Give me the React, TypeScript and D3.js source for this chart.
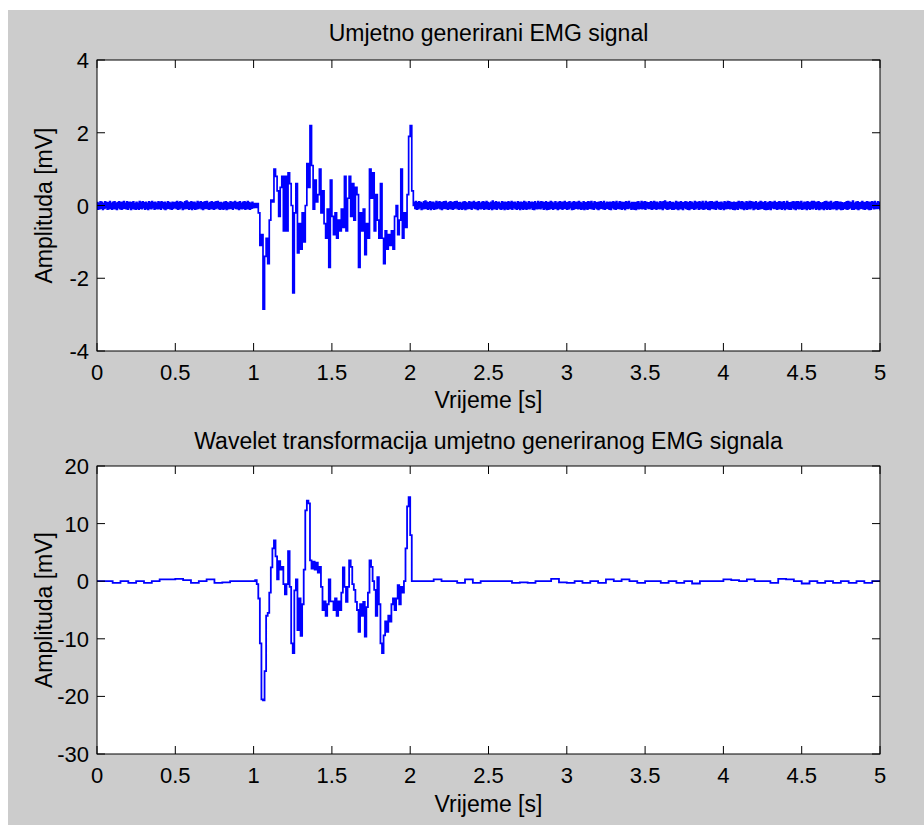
import React from "react";
import * as d3 from "d3";

// ---------- data ----------
const NOISE_DT = 0.005; // s, baseline noise sampling
const SAMPLE_DT = 0.01; // s, burst sampling
const BURST_START = 1.0; // s
const POST_START_TOP = 2.025; // s

const topTitle = "Umjetno generirani EMG signal";
const bottomTitle = "Wavelet transformacija umjetno generiranog EMG signala";
const xLabel = "Vrijeme [s]";
const yLabel = "Amplituda [mV]";

const xTicks = [0, 0.5, 1, 1.5, 2, 2.5, 3, 3.5, 4, 4.5, 5];
const topYTicks = [-4, -2, 0, 2, 4];
const bottomYTicks = [-30, -20, -10, 0, 10, 20];

// raw EMG, baseline noise before the burst (t = 0 .. 0.995 s)
const topPre = [
  .08,-.1,.06,-.09,.1,-.07,.09,-.11,.05,-.08,
  .1,-.06,.08,-.1,.07,-.09,.11,-.08,.06,-.1,
  .09,-.07,.1,-.09,.06,-.11,.08,-.06,.1,-.09,
  .07,-.1,.09,-.08,.11,-.07,.06,-.09,.1,-.1,
  .08,-.06,.09,-.11,.07,-.08,.1,-.09,.05,-.1,
  .09,-.08,.06,-.1,.11,-.07,.08,-.09,.1,-.06,
  .07,-.1,.09,-.08,.06,-.11,.1,-.07,.08,-.09,
  .11,-.06,.07,-.1,.09,-.08,.06,-.09,.1,-.07,
  .08,-.1,.1,-.06,.07,-.09,.09,-.11,.06,-.08,
  .1,-.07,.08,-.09,.06,-.1,.09,-.08,.07,-.05,
  .09,-.08,.11,-.1,.07,-.09,.1,-.06,.08,-.11,
  .06,-.09,.1,-.08,.12,-.07,.09,-.1,.07,-.08,
  .1,-.11,.08,-.07,.09,-.1,.06,-.09,.11,-.08,
  .08,-.06,.1,-.09,.07,-.11,.09,-.08,.1,-.07,
  .11,-.09,.06,-.1,.08,-.07,.1,-.09,.07,-.1,
  .09,-.08,.1,-.06,.11,-.09,.07,-.1,.08,-.08,
  .06,-.1,.09,-.07,.1,-.11,.08,-.09,.06,-.08,
  .1,-.07,.08,-.1,.09,-.06,.11,-.08,.07,-.09,
  .08,-.11,.1,-.08,.06,-.09,.09,-.07,.1,-.1,
  .07,-.08,.11,-.09,.08,-.1,.06,-.07,.09,-.06,
];
// raw EMG burst (t = 1.00 .. 2.02 s)
const topBurst = [
  .05,-.05,.05,-.2,-1.1,-.8,-2.85,-1.4,-.9,-1.6,
  -.4,.15,.1,1.0,.8,.4,-.3,.5,.8,-.7,
  .8,-.7,.9,.6,0,-2.4,-.2,.6,-1.3,-.5,
  -1.2,-.2,-1.0,0,1.15,.5,2.2,1.1,-.1,.7,
  .1,.3,1.0,-.2,.4,-.5,-.9,-.1,-1.7,.7,
  -.3,-.8,-.2,-.9,-.4,-.7,-.1,-.6,.8,-.7,
  .2,.8,-.3,.6,-.4,.5,.3,-1.7,-.2,-.7,
  -.1,-1.35,-.5,-.9,1.0,.2,.9,-.7,.3,-.4,
  -.9,.6,-.9,-1.6,-.7,-1.2,-.8,-1.1,-.7,-1.2,
  -.3,0,-.8,-.4,1.0,-.9,-.2,-.6,.3,1.9,
  2.2,.4,0,
];
// raw EMG, baseline noise after the burst (t = 2.025 .. 5.02 s)
const topPost = [
  .09,-.08,.11,-.1,.07,-.09,.1,-.06,.08,-.11,
  .06,-.09,.1,-.08,.12,-.07,.09,-.1,.07,-.08,
  .1,-.11,.08,-.07,.09,-.1,.06,-.09,.11,-.08,
  .08,-.06,.1,-.09,.07,-.11,.09,-.08,.1,-.07,
  .11,-.09,.06,-.1,.08,-.07,.1,-.09,.07,-.1,
  .09,-.08,.1,-.06,.11,-.09,.07,-.1,.08,-.08,
  .06,-.1,.09,-.07,.1,-.11,.08,-.09,.06,-.08,
  .1,-.07,.08,-.1,.09,-.06,.11,-.08,.07,-.09,
  .08,-.11,.1,-.08,.06,-.09,.09,-.07,.1,-.1,
  .07,-.08,.11,-.09,.08,-.1,.06,-.07,.09,-.11,
  .12,-.09,.07,-.08,.1,-.1,.08,-.06,.09,-.09,
  .05,-.1,.1,-.07,.08,-.11,.09,-.08,.07,-.1,
  .1,-.09,.07,-.08,.11,-.1,.08,-.06,.09,-.09,
  .06,-.1,.1,-.07,.08,-.11,.09,-.08,.07,-.1,
  .11,-.07,.09,-.1,.06,-.08,.1,-.09,.08,-.06,
  .09,-.1,.07,-.11,.1,-.08,.06,-.09,.11,-.07,
  .08,-.09,.1,-.06,.09,-.1,.07,-.08,.1,-.11,
  .07,-.1,.08,-.09,.11,-.07,.09,-.1,.06,-.08,
  .1,-.08,.06,-.11,.09,-.09,.1,-.07,.08,-.1,
  .09,-.07,.11,-.08,.07,-.1,.08,-.09,.1,-.06,
  .06,-.11,.09,-.1,.1,-.08,.07,-.07,.09,-.09,
  .11,-.08,.08,-.1,.06,-.09,.1,-.11,.07,-.08,
  .08,-.1,.1,-.07,.09,-.08,.11,-.09,.06,-.1,
  .1,-.06,.07,-.09,.08,-.11,.09,-.08,.1,-.07,
  .07,-.09,.11,-.1,.06,-.08,.09,-.07,.08,-.1,
  .09,-.11,.08,-.06,.1,-.09,.07,-.1,.11,-.08,
  .06,-.08,.1,-.09,.09,-.1,.08,-.07,.07,-.11,
  .1,-.07,.09,-.08,.11,-.06,.06,-.1,.08,-.09,
  .08,-.1,.07,-.11,.09,-.08,.1,-.09,.06,-.07,
  .11,-.09,.08,-.07,.1,-.1,.09,-.06,.07,-.08,
  .07,-.08,.1,-.1,.08,-.09,.11,-.07,.09,-.1,
  .09,-.07,.06,-.09,.1,-.08,.08,-.11,.1,-.06,
  .12,-.08,.09,-.1,.07,-.09,.1,-.07,.08,-.1,
  .08,-.1,.06,-.08,.11,-.09,.09,-.11,.07,-.08,
  .1,-.09,.08,-.11,.07,-.06,.1,-.08,.09,-.1,
  .07,-.11,.1,-.08,.09,-.07,.06,-.1,.11,-.09,
  .09,-.06,.08,-.1,.1,-.09,.07,-.08,.11,-.1,
  .06,-.09,.11,-.07,.08,-.1,.09,-.11,.1,-.08,
  .1,-.08,.07,-.09,.09,-.1,.11,-.06,.08,-.09,
  .08,-.1,.09,-.07,.06,-.11,.1,-.09,.07,-.08,
  .11,-.07,.1,-.09,.08,-.08,.07,-.1,.09,-.11,
  .07,-.09,.08,-.1,.11,-.06,.09,-.08,.1,-.09,
  .09,-.11,.06,-.08,.1,-.1,.08,-.07,.11,-.09,
  .1,-.06,.09,-.11,.07,-.09,.1,-.08,.06,-.1,
  .08,-.09,.11,-.08,.09,-.07,.07,-.1,.1,-.11,
  .06,-.1,.08,-.09,.1,-.11,.09,-.06,.08,-.08,
  .11,-.08,.07,-.1,.08,-.09,.1,-.07,.09,-.1,
  .09,-.07,.1,-.11,.06,-.08,.11,-.09,.07,-.1,
  .07,-.1,.09,-.06,.1,-.09,.08,-.11,.1,-.07,
  .1,-.09,.08,-.08,.11,-.1,.06,-.09,.09,-.08,
  .08,-.11,.1,-.07,.07,-.1,.09,-.08,.11,-.09,
  .11,-.06,.09,-.1,.08,-.08,.1,-.11,.07,-.09,
  .06,-.09,.07,-.11,.1,-.07,.11,-.1,.08,-.08,
  .09,-.1,.11,-.08,.06,-.09,.08,-.07,.1,-.11,
  .1,-.08,.08,-.09,.09,-.11,.07,-.1,.06,-.07,
  .07,-.09,.1,-.1,.11,-.08,.09,-.06,.08,-.1,
  .12,-.1,.06,-.08,.09,-.09,.1,-.11,.07,-.08,
  .08,-.07,.11,-.09,.07,-.1,.08,-.08,.1,-.09,
  .09,-.11,.07,-.1,.1,-.06,.09,-.09,.11,-.08,
  .06,-.08,.1,-.07,.08,-.11,.11,-.1,.09,-.09,
];

// wavelet transform: baseline before burst (t = 0 .. 0.95 s, step 0.05)
const WT_BASE_DT = 0.05;
const wtPre = [0,0,-.3,0,-.3,0,-.3,0,.3,.3,.4,.2,-.3,0,.3,-.3,-.2,0,0,0];
// wavelet transform burst (t = 1.00 .. 2.02 s, step 0.01)
const wtBurst = [
  0,.2,-.5,-3,-10.8,-20.5,-20.7,-15.6,-6,-5.5,
  -2,2.4,5.7,7.1,4.3,.3,3.5,2,2.5,-.5,
  -2.3,-.5,5.2,-1,-10.8,-12.5,-1.6,.3,-8.5,-3,
  -9.5,-4,2,12.3,14,13.5,3.6,2.2,3.4,2,
  3.2,1.5,2.5,-1,-5,-3.5,-6,-4,.3,-3.5,
  -3.5,-5,-3,-6,-3.5,-5,-2,2.4,-1,-3.6,
  -1,3.6,2.5,-.5,-1.5,-3.6,-5,-8.8,-4,-6,
  -3.6,-9.6,-4.5,-2,3.6,2.5,0,-1.5,-6,.7,
  -4,-10.8,-12.5,-9.4,-7,-8.8,-6,-7,-4,-3,
  -5,-3,-.7,-4,-1,-2,0,5.7,13,14.6,
  8,0,0,
];
const WT_POST_START = 2.05;
// wavelet transform: baseline after burst (t = 2.05 .. 5.00 s, step 0.05)
const wtPost = [
  0,0,.3,0,0,-.3,.3,-.3,0,0,
  0,0,-.3,-.2,-.3,0,0,.4,-.2,-.3,
  0,-.3,0,-.3,.3,0,.3,0,-.3,0,
  0,-.3,0,-.3,0,-.4,0,0,0,.3,
  .2,0,.3,0,0,-.3,.4,.3,0,-.4,
  0,-.3,0,-.3,0,-.3,0,-.3,0,0,
];

type Pt = [number, number];
const topSeries: Pt[] = [
  ...topPre.map((v, i): Pt => [i * NOISE_DT, v]),
  ...topBurst.map((v, i): Pt => [BURST_START + i * SAMPLE_DT, v]),
  ...topPost.map((v, i): Pt => [POST_START_TOP + i * NOISE_DT, v]),
];
const wtSeries: Pt[] = [
  ...wtPre.map((v, i): Pt => [i * WT_BASE_DT, v]),
  ...wtBurst.map((v, i): Pt => [BURST_START + i * SAMPLE_DT, v]),
  ...wtPost.map((v, i): Pt => [WT_POST_START + i * WT_BASE_DT, v]),
];

// ---------- layout ----------
const W = 924;
const H = 825;
const LEFT = 97;
const RIGHT = 880;
const FONT = "'Liberation Sans', Arial, sans-serif";
const FS = 22;
const FS_LABEL = 23;
const TICK = 8;

interface PanelProps {
  id: string;
  top: number;
  bottom: number;
  yDomain: [number, number];
  yTicks: number[];
  data: Pt[];
  title: string;
  titleY: number;
  xTickY: number;
  xLabelY: number;
  lineWidth: number;
}

function Panel(p: PanelProps) {
  const x = d3.scaleLinear().domain([0, 5]).range([LEFT, RIGHT]);
  const y = d3.scaleLinear().domain(p.yDomain).range([p.bottom, p.top]);
  const line = d3
    .line<Pt>()
    .curve(d3.curveStepAfter)
    .x((d) => x(d[0]))
    .y((d) => y(d[1]));
  const cy = (p.top + p.bottom) / 2;
  return (
    <g>
      <defs>
        <clipPath id={p.id}>
          <rect x={LEFT} y={p.top} width={RIGHT - LEFT} height={p.bottom - p.top} />
        </clipPath>
      </defs>
      <rect x={LEFT} y={p.top} width={RIGHT - LEFT} height={p.bottom - p.top} fill="#ffffff" />
      <path
        d={line(p.data) || ""}
        fill="none"
        stroke="#0000ff"
        strokeWidth={p.lineWidth}
        strokeLinejoin="miter"
        clipPath={`url(#${p.id})`}
      />
      {/* x ticks, mirrored */}
      {xTicks.map((t) => (
        <g key={"xt" + t}>
          <line x1={x(t)} x2={x(t)} y1={p.bottom} y2={p.bottom - TICK} stroke="#000" strokeWidth={1} />
          <line x1={x(t)} x2={x(t)} y1={p.top} y2={p.top + TICK} stroke="#000" strokeWidth={1} />
          <text x={x(t)} y={p.xTickY} textAnchor="middle" fontFamily={FONT} fontSize={FS} fill="#000">
            {String(t)}
          </text>
        </g>
      ))}
      {/* y ticks, mirrored */}
      {p.yTicks.map((t) => (
        <g key={"yt" + t}>
          <line x1={LEFT} x2={LEFT + TICK} y1={y(t)} y2={y(t)} stroke="#000" strokeWidth={1} />
          <line x1={RIGHT} x2={RIGHT - TICK} y1={y(t)} y2={y(t)} stroke="#000" strokeWidth={1} />
          <text x={89} y={y(t) + 8} textAnchor="end" fontFamily={FONT} fontSize={FS} fill="#000">
            {String(t)}
          </text>
        </g>
      ))}
      <rect
        x={LEFT}
        y={p.top}
        width={RIGHT - LEFT}
        height={p.bottom - p.top}
        fill="none"
        stroke="#000"
        strokeWidth={1}
      />
      <text x={(LEFT + RIGHT) / 2} y={p.titleY} textAnchor="middle" fontFamily={FONT} fontSize={FS_LABEL} fill="#000">
        {p.title}
      </text>
      <text x={(LEFT + RIGHT) / 2} y={p.xLabelY} textAnchor="middle" fontFamily={FONT} fontSize={FS_LABEL} fill="#000">
        {xLabel}
      </text>
      <text
        transform={`translate(52,${cy}) rotate(-90)`}
        textAnchor="middle"
        fontFamily={FONT}
        fontSize={FS_LABEL}
        fill="#000"
      >
        {yLabel}
      </text>
    </g>
  );
}

export default function App() {
  return (
    <svg
      width={W}
      height={H}
      style={{ position: "absolute", left: 0, top: 0, display: "block" }}
      xmlns="http://www.w3.org/2000/svg"
    >
      <rect x={0} y={0} width={W} height={H} fill="#ffffff" />
      <rect x={8} y={10} width={W - 8} height={H - 10} fill="#cccccc" />
      <Panel
        id="clipTop"
        top={60}
        bottom={351}
        yDomain={[-4, 4]}
        yTicks={topYTicks}
        data={topSeries}
        title={topTitle}
        titleY={41}
        xTickY={380}
        xLabelY={408}
        lineWidth={1.7}
      />
      <Panel
        id="clipBottom"
        top={466}
        bottom={754}
        yDomain={[-30, 20]}
        yTicks={bottomYTicks}
        data={wtSeries}
        title={bottomTitle}
        titleY={449}
        xTickY={783}
        xLabelY={812}
        lineWidth={1.8}
      />
    </svg>
  );
}
